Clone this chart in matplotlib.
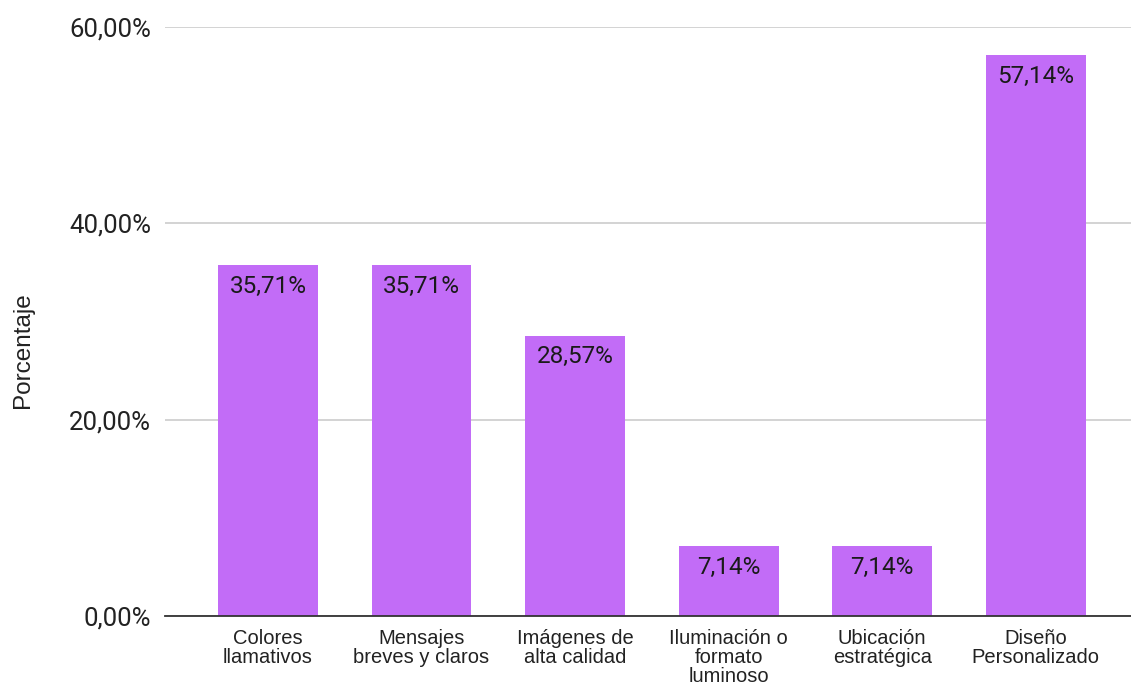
import numpy as np
import matplotlib.pyplot as plt

categorias = ['Colores\nllamativos', 'Mensajes\nbreves y claros', 'Imágenes de\nalta calidad',
              'Iluminación o\nformato\nluminoso', 'Ubicación\nestratégica', 'Diseño\nPersonalizado']
porcentajes = [35.71, 35.71, 28.57, 7.14, 7.14, 57.14]
ticks_y = [0, 20, 40, 60]

fig = plt.figure(figsize=(11.31, 6.84), dpi=100)
ax = fig.add_axes([0.1459, 0.0994, 0.8541, 0.8611])

x = np.arange(len(categorias))
barras = ax.bar(x, porcentajes, width=0.65, color='#c26cf7', zorder=3)

for xi, v in zip(x, porcentajes):
    ax.annotate(f'{v:.2f}%'.replace('.', ','), (xi, v), xytext=(0, -7),
                textcoords='offset points', ha='center', va='top',
                fontsize=17.5, family='Roboto', color='#1a1a1a', zorder=4)

ax.set_xlim(-0.67, 5.62)
ax.set_ylim(0, 60)
ax.set_yticks(ticks_y)
ax.set_yticklabels([f'{t:.2f}%'.replace('.', ',') for t in ticks_y],
                   fontsize=18.5, family='Roboto', color='#222222')
ax.set_xticks(x)
ax.set_xticklabels(categorias, fontsize=14.5, family='Liberation Sans',
                   color='#222222', linespacing=1.0, va='top')
ax.tick_params(axis='both', length=0)
ax.tick_params(axis='y', pad=10)
ax.tick_params(axis='x', pad=9)

ax.grid(axis='y', color='#cccccc', linewidth=1.2, zorder=0)
for s in ['top', 'right', 'left']:
    ax.spines[s].set_visible(False)
ax.spines['bottom'].set_color('#333333')
ax.spines['bottom'].set_linewidth(1.3)
ax.spines['bottom'].set_zorder(5)

fig.text(0.0203, 0.488, 'Porcentaje', rotation=90, ha='center', va='center',
         fontsize=17.5, family='Liberation Sans', color='#222222')

fig.savefig('out.png', dpi=100)
